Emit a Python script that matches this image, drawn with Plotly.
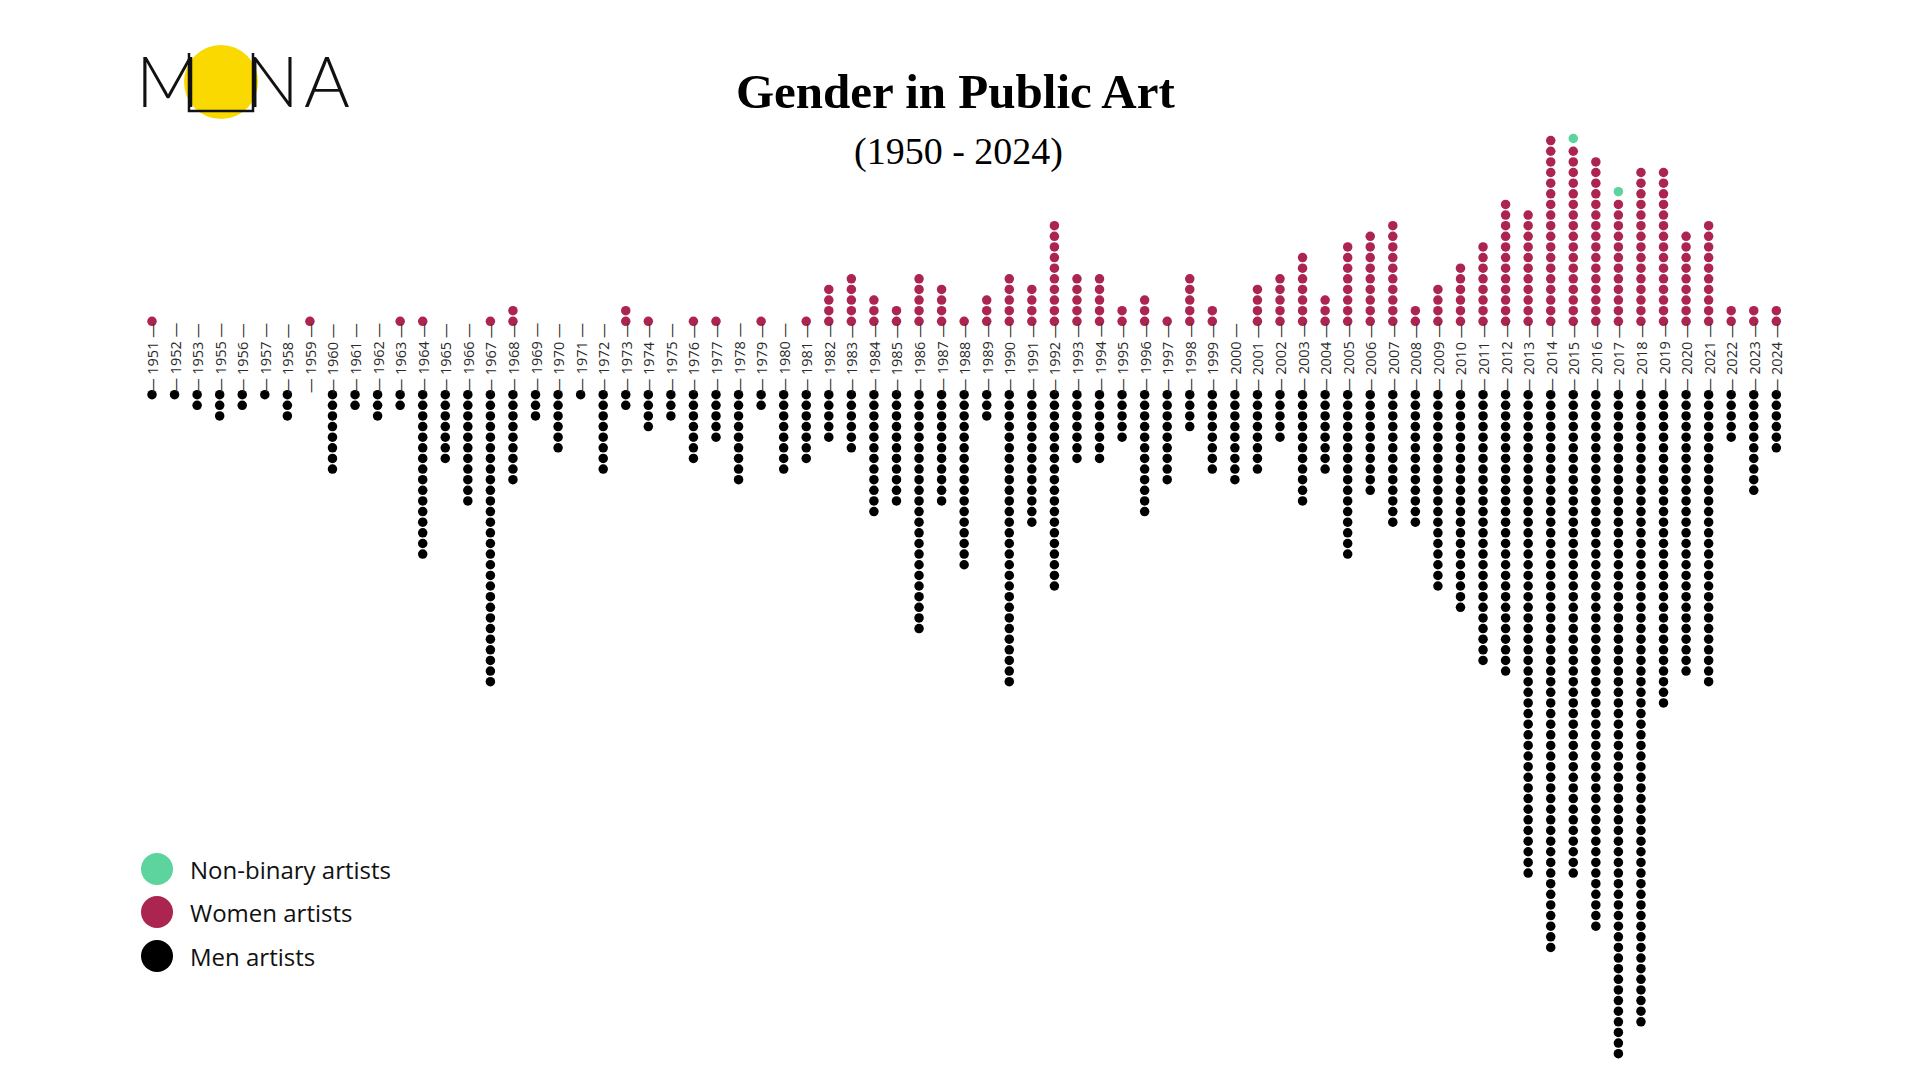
import plotly.graph_objects as go

years = [1951, 1952, 1953] + list(range(1955, 2025))
women = [1, 0, 0, 0, 0, 0, 0, 1, 0, 0, 0, 1, 1, 0, 0, 1,   # 1951-1967
         2, 0, 0, 0, 0, 2, 1, 0, 1, 1, 0, 1, 0, 1, 4, 5, 3,   # 1968-1984
         2, 5, 4, 1, 3, 5, 4, 10, 5, 5, 2, 3, 1, 5, 2,        # 1985-1999
         0, 4, 5, 7, 3, 8, 9, 10, 2, 4, 6, 8, 12, 11, 18,     # 2000-2014
         17, 16, 12, 15, 15, 9, 10, 2, 2, 2]                  # 2015-2024
men = [1, 1, 2, 3, 2, 1, 3, 0, 8, 2, 3, 2, 16, 7, 11, 28,   # 1951-1967
       9, 3, 6, 1, 8, 2, 4, 3, 7, 5, 9, 2, 8, 7, 5, 6, 12,    # 1968-1984
       11, 23, 11, 17, 3, 28, 13, 19, 7, 7, 5, 12, 9, 4, 8,   # 1985-1999
       9, 8, 5, 11, 8, 16, 10, 13, 13, 19, 21, 26, 27, 46, 53,  # 2000-2014
       46, 51, 63, 60, 30, 27, 28, 5, 10, 6]                   # 2015-2024
nonbinary = {2015: 1, 2017: 1}

C_W, C_M, C_NB = "#AC2450", "#000000", "#5DD39E"
GAP = 3.45
STEP = 10.63  # px per unit
OFF = 8  # page body margin

wx, wy, mx, my, nx, ny = [], [], [], [], [], []
for i, yr in enumerate(years):
    for k in range(women[i]):
        wx.append(i); wy.append(GAP + k)
    for k in range(men[i]):
        mx.append(i); my.append(-(GAP + k))
    for k in range(nonbinary.get(yr, 0)):
        nx.append(i); ny.append(GAP + women[i] - 1 + 1.2 + k)

fig = go.Figure()
mk = dict(size=9.5, line=dict(width=0))
fig.add_trace(go.Scatter(x=mx, y=my, mode="markers", marker=dict(color=C_M, **mk), hoverinfo="skip"))
fig.add_trace(go.Scatter(x=wx, y=wy, mode="markers", marker=dict(color=C_W, **mk), hoverinfo="skip"))
fig.add_trace(go.Scatter(x=nx, y=ny, mode="markers", marker=dict(color=C_NB, **mk), hoverinfo="skip"))

for i, yr in enumerate(years):
    fig.add_annotation(x=i, y=0, text=f"— {yr} —", textangle=-90, showarrow=False,
                       font=dict(family="Open Sans", size=14.5, color="#2a2a2a"))

W, H = 1920, 1080
x0px, colpx, y0px = 152 - OFF, 22.56, 358 - OFF
fig.update_xaxes(range=[-x0px / colpx, (W - x0px) / colpx], visible=False, fixedrange=True)
fig.update_yaxes(range=[-(H - y0px) / STEP, y0px / STEP], visible=False, fixedrange=True)

def px(x): return (x - OFF) / W
def py(y): return 1 - (y - OFF) / H

def txt(x, y, text, font, xanchor="center"):
    fig.add_annotation(xref="paper", yref="paper", x=px(x), y=py(y), text=text, showarrow=False,
                       xanchor=xanchor, yanchor="middle", font=font)

# title
txt(955, 92, "<b>Gender in Public Art</b>", dict(family="Liberation Serif", size=49, color="#000"))
txt(958, 152, "(1950 - 2024)", dict(family="Liberation Serif", size=38, color="#000"))

# logo
fig.add_shape(type="circle", xref="paper", yref="paper", x0=px(184), x1=px(258), y0=py(45), y1=py(119),
              fillcolor="#F9D900", line=dict(width=0), layer="below")
fig.add_shape(type="path", xref="paper", yref="paper",
              path=f"M {px(189)} {py(53)} L {px(189)} {py(111)} L {px(253)} {py(111)} L {px(253)} {py(53)}",
              line=dict(color="#111", width=2.5))
for ch, cx in [("M", 168), ("N", 272), ("A", 327)]:
    txt(cx, 80, ch, dict(family="Lato", size=70, color="#111", weight=300))

# legend
for lbl, col, yy in [("Non-binary artists", C_NB, 869), ("Women artists", C_W, 912), ("Men artists", C_M, 956)]:
    fig.add_shape(type="circle", xref="paper", yref="paper", x0=px(141), x1=px(173), y0=py(yy - 16), y1=py(yy + 16),
                  fillcolor=col, line=dict(width=0))
    txt(188, yy, lbl, dict(family="Open Sans", size=24, color="#111"), xanchor="left")

fig.update_layout(width=W, height=H, margin=dict(l=0, r=0, t=0, b=0), showlegend=False,
                  paper_bgcolor="white", plot_bgcolor="white")
fig.write_html("out.html")
